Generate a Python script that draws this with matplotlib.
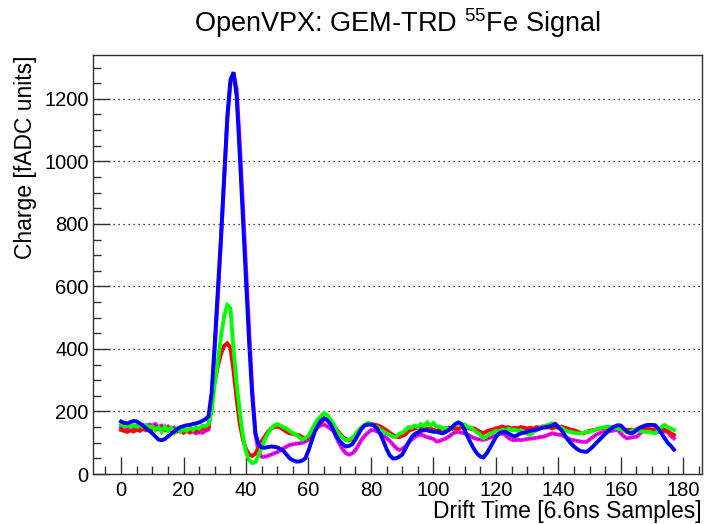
import numpy as np
import matplotlib
matplotlib.use("Agg")
import matplotlib.pyplot as plt
from matplotlib.ticker import MultipleLocator

plt.rcParams['font.family'] = ['Liberation Sans', 'DejaVu Sans']
plt.rcParams['mathtext.fontset'] = 'custom'
plt.rcParams['mathtext.rm'] = 'Liberation Sans'
plt.rcParams['mathtext.it'] = 'Liberation Sans'

samples = np.arange(178)

red = [141, 138, 135, 140, 136, 142, 138, 144, 140, 146,
       142, 148, 144, 150, 140, 146, 138, 144, 136, 140,
       132, 138, 134, 140, 136, 142, 145, 148, 150, 250,
       300, 345, 385, 410, 418, 405, 330, 240, 160, 110,
       80, 62, 58, 65, 85, 105, 120, 135, 145, 150,
       152, 148, 142, 135, 130, 128, 126, 124, 118, 114,
       118, 128, 142, 155, 165, 175, 178, 168, 155, 142,
       130, 118, 112, 108, 112, 125, 138, 148, 156, 162,
       160, 158, 156, 152, 146, 140, 132, 125, 119, 118,
       122, 126, 138, 142, 145, 148, 146, 150, 144, 146,
       140, 144, 140, 145, 142, 148, 144, 147, 145, 150,
       146, 148, 144, 146, 140, 135, 130, 136, 140, 142,
       146, 148, 152, 148, 150, 145, 148, 146, 150, 148,
       145, 148, 145, 150, 148, 152, 148, 150, 146, 150,
       148, 152, 148, 145, 142, 140, 136, 132, 130, 134,
       138, 140, 142, 145, 146, 148, 148, 150, 151, 150,
       146, 142, 140, 142, 140, 143, 145, 144, 146, 144,
       142, 144, 140, 142, 141, 136, 130, 125]

magenta = [148, 150, 146, 152, 148, 154, 150, 156, 152, 158,
           155, 160, 150, 155, 145, 152, 140, 148, 138, 145,
           135, 140, 132, 136, 130, 134, 132, 138, 142, 240,
           400, 570, 750, 940, 1130, 1250, 1282, 1230, 1060, 860,
           660, 460, 270, 130, 70, 55, 55, 58, 62, 66,
           70, 76, 82, 88, 93, 95, 97, 98, 100, 104,
           110, 122, 138, 150, 156, 158, 152, 145, 138, 115,
           95, 78, 66, 62, 66, 76, 92, 110, 122, 132,
           140, 140, 136, 130, 122, 115, 106, 95, 84, 77,
           80, 88, 100, 110, 118, 124, 126, 122, 118, 115,
           112, 104, 106, 110, 114, 120, 128, 134, 135, 132,
           130, 126, 120, 115, 112, 110, 109, 112, 116, 119,
           124, 128, 130, 125, 116, 110, 108, 110, 108, 110,
           112, 113, 114, 116, 118, 119, 122, 126, 130, 128,
           126, 125, 120, 115, 110, 108, 106, 104, 103, 103,
           110, 118, 125, 130, 133, 135, 136, 138, 140, 141,
           130, 120, 114, 116, 118, 119, 128, 136, 141, 140,
           137, 135, 134, 135, 136, 135, 122, 114]

green = [158, 152, 155, 150, 156, 151, 155, 150, 157, 149,
         152, 140, 150, 135, 152, 138, 148, 132, 146, 135,
         145, 138, 148, 140, 150, 145, 155, 152, 160, 200,
         290, 360, 440, 505, 540, 530, 400, 290, 200, 120,
         70, 45, 35, 38, 60, 85, 110, 130, 145, 155,
         160, 155, 150, 145, 138, 130, 126, 118, 110, 115,
         122, 140, 160, 175, 185, 195, 188, 175, 160, 140,
         125, 115, 108, 110, 115, 125, 140, 150, 158, 163,
         160, 155, 150, 142, 136, 130, 125, 119, 120, 128,
         132, 140, 150, 148, 155, 150, 160, 152, 165, 155,
         163, 150, 152, 145, 148, 140, 150, 158, 162, 155,
         158, 150, 148, 140, 132, 125, 114, 120, 128, 132,
         138, 136, 142, 138, 145, 140, 142, 138, 140, 135,
         128, 125, 135, 140, 146, 150, 155, 158, 162, 160,
         152, 148, 140, 136, 135, 132, 130, 130, 132, 134,
         135, 138, 142, 146, 148, 150, 151, 150, 148, 145,
         142, 138, 135, 135, 140, 141, 138, 136, 135, 135,
         132, 130, 140, 150, 157, 150, 145, 141]

blue = [168, 163, 162, 166, 170, 168, 162, 155, 146, 138,
        130, 120, 110, 108, 112, 120, 128, 136, 143, 150,
        153, 156, 157, 160, 162, 165, 170, 175, 185, 260,
        420, 590, 760, 950, 1140, 1260, 1285, 1210, 1020, 820,
        620, 420, 250, 130, 95, 85, 84, 86, 88, 87,
        85, 80, 74, 62, 50, 44, 40, 40, 43, 50,
        75, 105, 135, 155, 170, 178, 172, 160, 140, 120,
        105, 95, 88, 90, 95, 110, 128, 145, 155, 158,
        158, 155, 145, 128, 105, 80, 60, 50, 50, 55,
        62, 80, 100, 118, 128, 133, 138, 140, 140, 137,
        135, 135, 132, 130, 135, 142, 150, 160, 165, 160,
        140, 118, 98, 80, 65, 56, 53, 65, 82, 100,
        118, 130, 134, 135, 130, 124, 120, 125, 130, 132,
        135, 138, 140, 142, 145, 148, 150, 152, 155, 160,
        150, 140, 125, 110, 98, 88, 80, 74, 72, 71,
        78, 87, 98, 108, 118, 128, 138, 146, 152, 156,
        155, 145, 135, 130, 132, 140, 148, 152, 156, 157,
        157, 156, 145, 130, 115, 100, 90, 78]

fig = plt.figure(figsize=(7.07, 5.24), dpi=100)
ax = fig.add_axes([0.1315, 0.0954, 0.8615, 0.7996])

lw = 2.8
ax.plot(samples, magenta, color='#ff00ff', lw=lw, solid_joinstyle='miter')
ax.plot(samples, magenta, color='black', lw=0.8, ls=(0, (1, 2)))
ax.plot(samples, red, color='#ff0000', lw=lw, solid_joinstyle='miter')
ax.plot(samples, green, color='#00ff00', lw=lw, solid_joinstyle='miter')
ax.plot(samples, blue, color='#0000ff', lw=lw, solid_joinstyle='miter')

ax.set_xlim(-9, 186)
ax.set_ylim(0, 1340)

ax.xaxis.set_major_locator(MultipleLocator(20))
ax.xaxis.set_minor_locator(MultipleLocator(5))
ax.yaxis.set_major_locator(MultipleLocator(200))
ax.yaxis.set_minor_locator(MultipleLocator(50))
ax.tick_params(which='both', direction='in', top=False, right=False,
               labelsize=14.5, width=1, color='#333333')
ax.tick_params(which='major', length=12)
ax.tick_params(which='minor', length=6)
ax.tick_params(axis='x', which='major', pad=5)
ax.tick_params(axis='y', which='major', pad=3)

for y in range(200, 1400, 200):
    ax.axhline(y, color='black', lw=0.9, ls=(0, (1, 3)), zorder=0)

for s in ax.spines.values():
    s.set_color('#333333')
    s.set_linewidth(1.0)

ax.set_xlabel('Drift Time [6.6ns Samples]', fontsize=16.5, loc='right', labelpad=0)
ax.set_ylabel('Charge [fADC units]', fontsize=16.5, loc='top', labelpad=5)

fig.text(0.562, 0.956, r'OpenVPX: GEM-TRD $^{55}$Fe Signal', fontsize=19.5,
         ha='center', va='center')

fig.savefig('out.png', dpi=100)
